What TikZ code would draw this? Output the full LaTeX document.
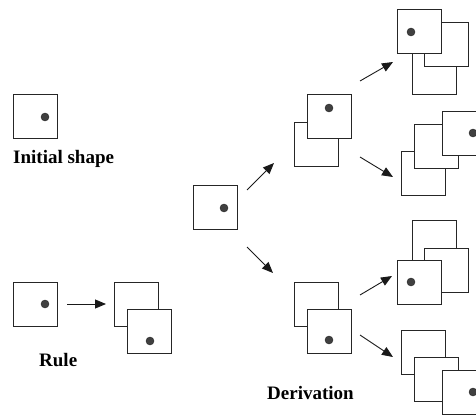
\documentclass[tikz,border=0pt]{standalone}
\usepackage{fontspec}
\setmainfont{Liberation Serif}
\usetikzlibrary{arrows.meta}
\begin{document}
\begin{tikzpicture}[x=1pt,y=-1pt,
  sq/.style={rectangle,draw=black!85,line width=0.9pt,fill=white,minimum size=44pt,inner sep=0pt},
  dotm/.style={circle,fill=black!75,draw=black!85,line width=0.4pt,minimum size=8pt,inner sep=0pt},
  arr/.style={draw=black!90,line width=0.9pt,-{Triangle[length=11pt,width=9pt]}},
  lbl/.style={font=\fontsize{19}{22}\selectfont\bfseries,anchor=base west,inner sep=0pt}]
\useasboundingbox (0,0) rectangle (476,417);
\clip (0,0) rectangle (476,417);
% Initial shape
\node[sq] (init) at (35.5,116) {};
\node[dotm] (initd) at (45,117) {};
\node[lbl] (initl) at (13,163) {Initial shape};
% Rule
\node[sq] (rl) at (35.5,304) {};
\node[dotm] (rld) at (45,304) {};
\node[sq] (rb) at (136.5,304) {};
\node[sq] (rf) at (149.5,331) {};
\node[dotm] (rfd) at (150,341) {};
\node[lbl] (rulel) at (39,366) {Rule};
\coordinate (ra1) at (67,304);
\coordinate (ra2) at (106,304);
\draw[arr] (ra1) -- (ra2);
% Center
\node[sq] (c) at (215.5,207.5) {};
\node[dotm] (cd) at (224,208) {};
% Upper middle
\node[sq] (umb) at (316.5,144) {};
\node[sq] (umf) at (329.5,116.5) {};
\node[dotm] (umd) at (329,108) {};
% Lower middle
\node[sq] (lmb) at (316.5,304) {};
\node[sq] (lmf) at (329.5,331) {};
\node[dotm] (lmd) at (329,340) {};
\node[lbl] (derl) at (267,399) {Derivation};
% Right 1
\node[sq] (r1c) at (434,72) {};
\node[sq] (r1b) at (446.5,44) {};
\node[sq] (r1a) at (419.5,31) {};
\node[dotm] (r1d) at (411,32) {};
% Right 2
\node[sq] (r2f) at (423.5,173.5) {};
\node[sq] (r2e) at (436.5,146) {};
\node[sq] (r2d) at (464,133) {};
\node[dotm] (r2dd) at (473,133) {};
% Right 3
\node[sq] (r3g) at (434.5,242) {};
\node[sq] (r3i) at (446.5,270) {};
\node[sq] (r3h) at (419.5,282) {};
\node[dotm] (r3d) at (411,282) {};
% Right 4
\node[sq] (r4j) at (423.5,352) {};
\node[sq] (r4k) at (436,379.5) {};
\node[sq] (r4l) at (464,392) {};
\node[dotm] (r4d) at (473,392) {};
% Arrow end points
\coordinate (a1s) at (247,190); \coordinate (a1e) at (274,163);
\coordinate (a2s) at (247,247); \coordinate (a2e) at (273,273);
\coordinate (a3s) at (360,81);  \coordinate (a3e) at (393,62);
\coordinate (a4s) at (360,157); \coordinate (a4e) at (393,177);
\coordinate (a5s) at (360,295); \coordinate (a5e) at (392,276);
\coordinate (a6s) at (360,335); \coordinate (a6e) at (393,357);
\draw[arr] (a1s) -- (a1e);
\draw[arr] (a2s) -- (a2e);
\draw[arr] (a3s) -- (a3e);
\draw[arr] (a4s) -- (a4e);
\draw[arr] (a5s) -- (a5e);
\draw[arr] (a6s) -- (a6e);
\end{tikzpicture}
\end{document}
